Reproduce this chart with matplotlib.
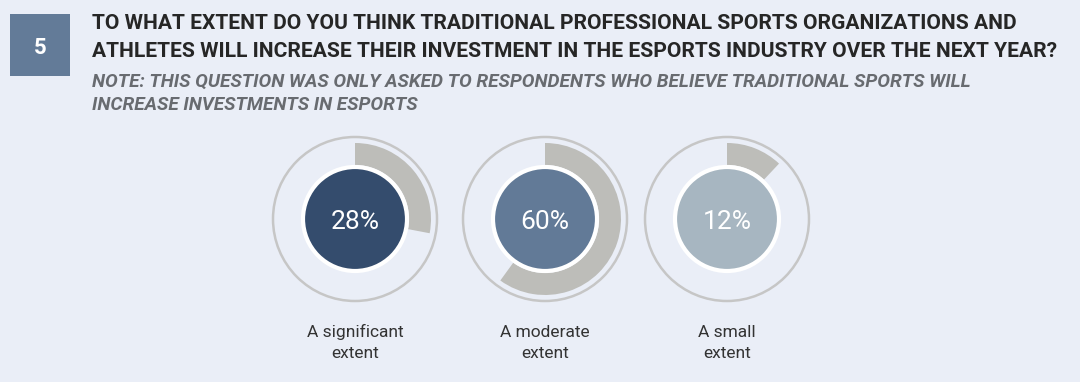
import matplotlib
matplotlib.use("Agg")
import matplotlib.pyplot as plt
from matplotlib.patches import Circle, Rectangle

# ---- data ----
categories = ["A significant\nextent", "A moderate\nextent", "A small\nextent"]
values = [28, 60, 12]
pct_labels = ["28%", "60%", "12%"]
title_lines = ["TO WHAT EXTENT DO YOU THINK TRADITIONAL PROFESSIONAL SPORTS ORGANIZATIONS AND",
               "ATHLETES WILL INCREASE THEIR INVESTMENT IN THE ESPORTS INDUSTRY OVER THE NEXT YEAR?"]
note_lines = ["NOTE: THIS QUESTION WAS ONLY ASKED TO RESPONDENTS WHO BELIEVE TRADITIONAL SPORTS WILL",
              "INCREASE INVESTMENTS IN ESPORTS"]
question_number = "5"

# ---- style ----
BG = "#eaeef7"
fill_colors = ["#344c6d", "#627a97", "#a7b6c1"]
ARC = "#bdbdb9"
RING = "#c6c6c6"
FONT = ["Roboto", "DejaVu Sans"]

W, H = 1080, 382
fig = plt.figure(figsize=(W / 100, H / 100), dpi=100, facecolor=BG)
ax = fig.add_axes([0, 0, 1, 1])
ax.set_facecolor(BG)

centers_x = [355, 545, 727]
cy = 219
R_OUT, R_ARC, W_ARC, R_IN = 82, 76, 22, 52

for cx, v, col, pl, cat in zip(centers_x, values, fill_colors, pct_labels, categories):
    ax.add_patch(Circle((cx, cy), R_OUT, facecolor="none", edgecolor=RING, lw=1.8, zorder=1))
    ax.pie([v, 100 - v], colors=[ARC, "none"], startangle=270, counterclock=True,
           radius=R_ARC, center=(cx, cy), wedgeprops=dict(width=W_ARC, linewidth=0),
           frame=True)
    ax.add_patch(Circle((cx, cy), R_IN, facecolor=col, edgecolor="white", lw=3, zorder=3))
    ax.text(cx, 229, pl, ha="center", va="baseline", color="white", fontsize=19,
            family=FONT, zorder=4)
    l1, l2 = cat.split("\n")
    ax.text(cx, 337, l1, ha="center", va="baseline", color="#333333", fontsize=12.5, family=FONT)
    ax.text(cx, 358, l2, ha="center", va="baseline", color="#333333", fontsize=12.5, family=FONT)

# header
ax.add_patch(Rectangle((10, 14), 60, 62, facecolor="#637b98", edgecolor="none"))
ax.text(40, 54, question_number, ha="center", va="baseline", color="white", fontsize=16,
        fontweight="bold", family=FONT)
for yb, t in zip([29, 57], title_lines):
    ax.text(92, yb, t, ha="left", va="baseline", color="#262626", fontsize=15.1,
            fontweight="bold", family=FONT)
for yb, t in zip([87, 110], note_lines):
    ax.text(92, yb, t, ha="left", va="baseline", color="#686b70", fontsize=13.7,
            fontweight="bold", fontstyle="italic", family=FONT)

ax.set_xlim(0, W)
ax.set_ylim(H, 0)
ax.set_aspect("auto")
ax.axis("off")
fig.savefig("out.png", dpi=100, facecolor=BG)
